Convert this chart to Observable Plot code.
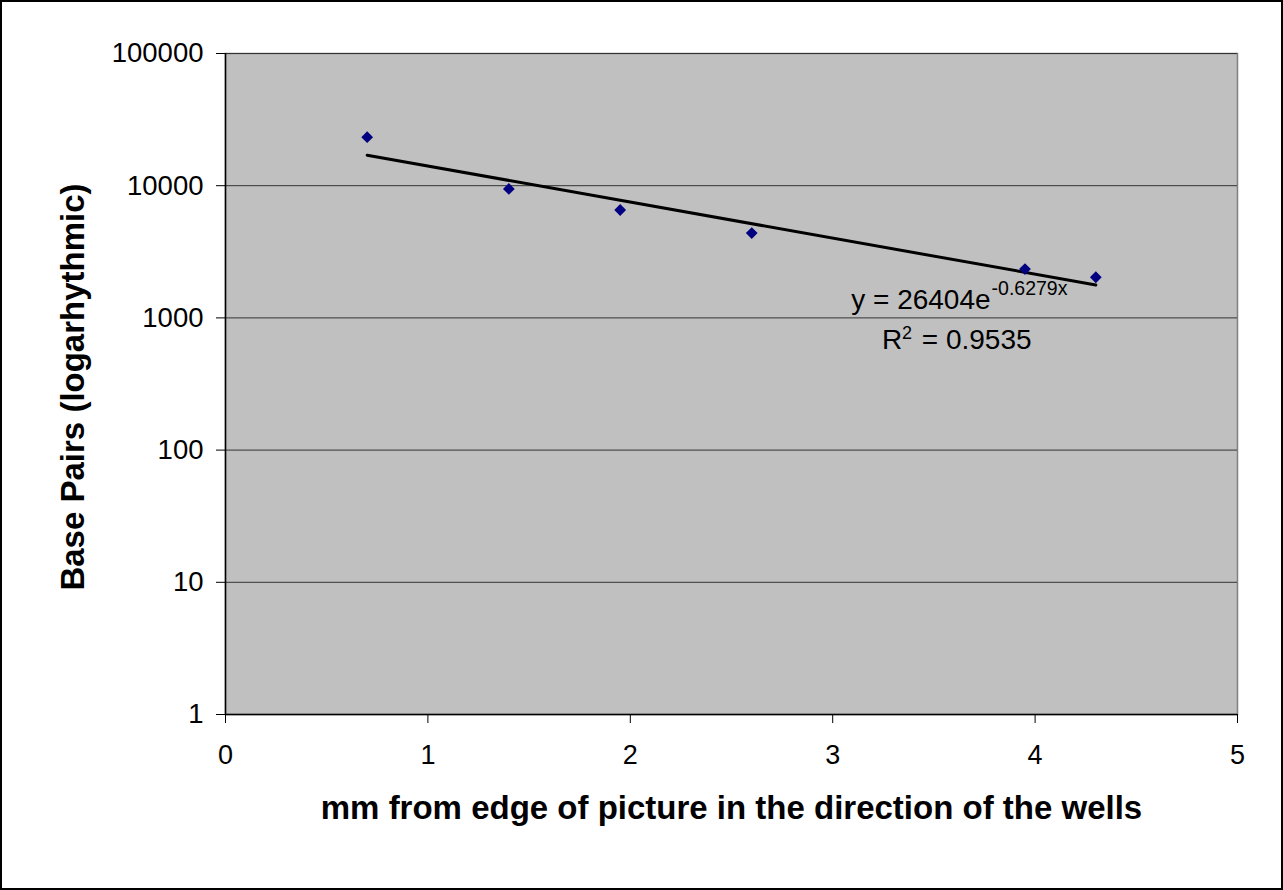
<!DOCTYPE html>
<html>
<head>
<meta charset="utf-8">
<script src="https://cdn.jsdelivr.net/npm/d3@7"></script>
<script src="https://cdn.jsdelivr.net/npm/@observablehq/plot@0.6"></script>
<style>
  html, body { margin: 0; padding: 0; background: #fff; }
  #wrap { position: relative; width: 1283px; height: 890px; overflow: hidden; }
  #border { position: absolute; left: 0; top: 0; width: 1283px; height: 890px; box-sizing: border-box; border: 2px solid #000; pointer-events: none; }
  svg { display: block; }
</style>
</head>
<body>
<div id="wrap"><div id="border"></div></div>
<script>
// ---- data ----
const distanceMm = [0.7, 1.4, 1.95, 2.6, 3.95, 4.3];
const basePairs = [23300, 9450, 6550, 4380, 2340, 2030];

// exponential trendline (straight on log scale): y = 26404 e^(-0.6279x), endpoints
const trendX = [0.7, 4.3];
const trendY = [17016, 1775];

const xTicks = [0, 1, 2, 3, 4, 5];
const yTicks = [1, 10, 100, 1000, 10000, 100000];

const xTitle = "mm from edge of picture in the direction of the wells";
const yTitle = "Base Pairs (logarhythmic)";

// trendline label pieces
const eqMain = "y = 26404e";
const eqExp = "-0.6279x";
const r2Main = "R";
const r2Sup = "2";
const r2Value = "= 0.9535";
// label anchor positions (data coordinates)
const eqX = 3.78, eqY = 1160;
const r2X = 3.343, r2ValueX = 3.44, r2Y = 577;

const points = distanceMm.map((x, i) => ({x, y: basePairs[i]}));
const trend = trendX.map((x, i) => ({x, y: trendY[i]}));

const chart = Plot.plot({
  width: 1283,
  height: 890,
  marginLeft: 225,
  marginRight: 46,
  marginTop: 53,
  marginBottom: 176,
  style: {fontFamily: "'Liberation Sans', Arial, sans-serif", fontSize: "27px", color: "#000", background: "transparent"},
  x: {domain: [0, 5]},
  y: {type: "log", domain: [1, 100000]},
  marks: [
    Plot.frame({fill: "#c0c0c0", stroke: "#808080", strokeWidth: 1.5}),
    Plot.gridY(yTicks, {stroke: "#333", strokeOpacity: 1, strokeWidth: 1}),
    Plot.ruleX([0], {stroke: "#000", strokeWidth: 1.5}),
    Plot.ruleY([1], {stroke: "#000", strokeWidth: 1.5}),
    Plot.axisX(xTicks, {tickSize: 9, tickPadding: 21, label: null, fontSize: 27, tickFormat: d => String(d)}),
    Plot.axisY(yTicks, {tickSize: 9, tickPadding: 13, label: null, fontSize: 27.5, tickFormat: d => String(d)}),
    Plot.line(trend, {x: "x", y: "y", stroke: "#000", strokeWidth: 3}),
    Plot.dot(points, {x: "x", y: "y", symbol: "diamond2", r: 5.3, fill: "#000080", stroke: "none"}),
    Plot.text([eqMain], {x: eqX, y: eqY, text: d => d, textAnchor: "end", lineAnchor: "bottom", fontSize: 28, fill: "#000"}),
    Plot.text([eqExp], {x: eqX, y: eqY, text: d => d, textAnchor: "start", lineAnchor: "bottom", fontSize: 19.5, dx: 1, dy: -14, fill: "#000"}),
    Plot.text([r2Main], {x: r2X, y: r2Y, text: d => d, textAnchor: "end", lineAnchor: "bottom", fontSize: 28, fill: "#000"}),
    Plot.text([r2Sup], {x: r2X, y: r2Y, text: d => d, textAnchor: "start", lineAnchor: "bottom", fontSize: 18, dy: -10, fill: "#000"}),
    Plot.text([r2Value], {x: r2ValueX, y: r2Y, text: d => d, textAnchor: "start", lineAnchor: "bottom", fontSize: 28, fill: "#000"}),
    Plot.text([xTitle], {frameAnchor: "bottom", text: d => d, textAnchor: "middle", lineAnchor: "bottom", dy: 104.5, fontSize: 33, fontWeight: "bold", fill: "#000"}),
    Plot.text([yTitle], {frameAnchor: "left", text: d => d, rotate: -90, textAnchor: "middle", lineAnchor: "bottom", dx: -142, dy: 3, fontSize: 33, fontWeight: "bold", fill: "#000"})
  ]
});
document.getElementById("wrap").insertBefore(chart, document.getElementById("border"));
</script>
</body>
</html>
